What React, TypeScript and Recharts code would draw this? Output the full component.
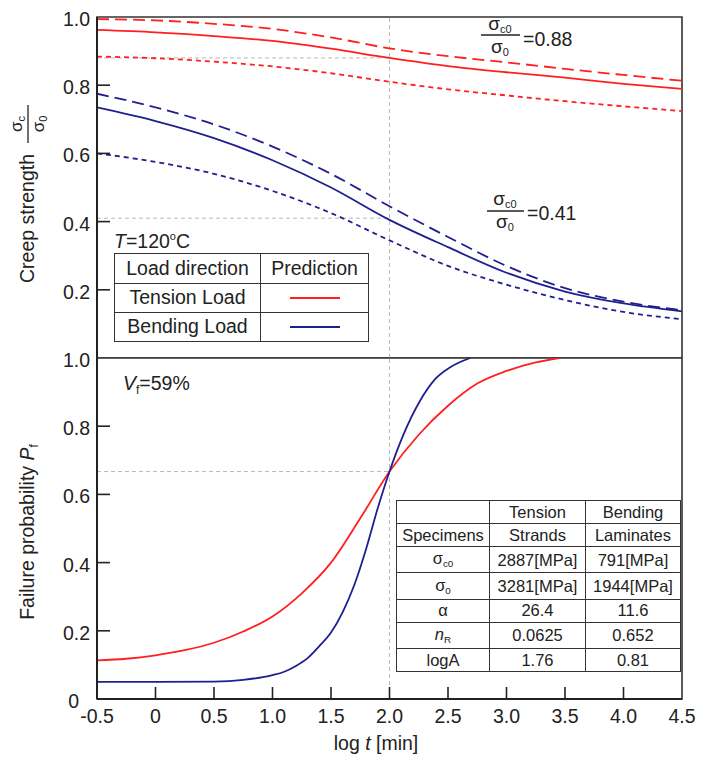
import React from 'react';
import { LineChart, Line, XAxis, YAxis, ReferenceLine, ReferenceArea } from 'recharts';

// ---------- data ----------
const logT = [-0.5, 0, 0.5, 1.0, 1.5, 2.0, 2.5, 3.0, 3.5, 4.0, 4.5];
const tensionPred = [0.962, 0.955, 0.944, 0.93, 0.907, 0.88, 0.856, 0.838, 0.822, 0.804, 0.789];
const tensionUpper = [0.994, 0.99, 0.98, 0.965, 0.94, 0.908, 0.885, 0.867, 0.848, 0.83, 0.813];
const tensionLower = [0.884, 0.879, 0.869, 0.855, 0.835, 0.81, 0.788, 0.77, 0.753, 0.738, 0.724];
const bendingPred = [0.735, 0.695, 0.645, 0.58, 0.5, 0.405, 0.325, 0.25, 0.195, 0.16, 0.137];
const bendingUpper = [0.775, 0.735, 0.685, 0.62, 0.54, 0.445, 0.355, 0.27, 0.205, 0.165, 0.14];
const bendingLower = [0.6, 0.575, 0.54, 0.49, 0.425, 0.345, 0.27, 0.215, 0.17, 0.135, 0.114];

const pfTensionT = [-0.5, -0.25, 0, 0.25, 0.5, 0.75, 1.0, 1.25, 1.5, 1.75, 2.0, 2.25, 2.5, 2.75, 3.0, 3.25, 3.45];
const pfTensionV = [0.113, 0.118, 0.128, 0.143, 0.165, 0.198, 0.242, 0.31, 0.4, 0.53, 0.667, 0.775, 0.86, 0.925, 0.962, 0.987, 1.0];
const pfBendingT = [-0.5, 0, 0.5, 0.75, 1.0, 1.1, 1.2, 1.3, 1.4, 1.5, 1.6, 1.7, 1.8, 1.9, 2.0, 2.12, 2.26, 2.39, 2.52, 2.69];
const pfBendingV = [0.05, 0.05, 0.051, 0.056, 0.07, 0.08, 0.097, 0.12, 0.155, 0.195, 0.255, 0.335, 0.44, 0.56, 0.667, 0.776, 0.874, 0.938, 0.973, 1.0];

const xTicks = [-0.5, 0, 0.5, 1.0, 1.5, 2.0, 2.5, 3.0, 3.5, 4.0, 4.5];
const topYTicks = [0.2, 0.4, 0.6, 0.8, 1.0];
const bottomYTicks = [0, 0.2, 0.4, 0.6, 0.8, 1.0];

const crossT = 2.0;
const tensionRatio = 0.88;
const bendingRatio = 0.41;
const crossPf = 0.667;

const legendRows = [
  { name: 'Tension Load', color: '#ff1f1f' },
  { name: 'Bending Load', color: '#1f1f8f' },
];

const paramHeader = ['', 'Tension', 'Bending'];
const paramSpecimens = ['Specimens', 'Strands', 'Laminates'];
const paramSigmaC0 = ['2887[MPa]', '791[MPa]'];
const paramSigma0 = ['3281[MPa]', '1944[MPa]'];
const paramAlpha = ['26.4', '11.6'];
const paramNR = ['0.0625', '0.652'];
const paramLogA = ['1.76', '0.81'];

// ---------- style ----------
const FONT = '"Liberation Sans", Arial, Helvetica, sans-serif';
const RED = '#ff1f1f';
const BLUE = '#1f1f8f';
const GRAY = '#b8b8b8';
const AXIS = '#222';
const FS = 19.5;

const topData = logT.map((t, i) => ({
  t,
  tp: tensionPred[i],
  tu: tensionUpper[i],
  tl: tensionLower[i],
  bp: bendingPred[i],
  bu: bendingUpper[i],
  bl: bendingLower[i],
}));
const pfTension = pfTensionT.map((t, i) => ({ t, v: pfTensionV[i] }));
const pfBending = pfBendingT.map((t, i) => ({ t, v: pfBendingV[i] }));

const fmt = (v: number) => (v === 0 ? '0' : v.toFixed(1));
const TICK_MARGIN = 6;

const YTick = (props: any) => {
  const { x, y, payload } = props;
  const axisX = x + TICK_MARGIN;
  const v = payload.value as number;
  return (
    <g>
      {v > 0 && v < 1 && <line x1={axisX} x2={axisX + 13} y1={y} y2={y} stroke={AXIS} strokeWidth={1.6} />}
      <text x={v === 0 ? axisX - 18 : axisX - 7} y={y + 2} dy="0.36em" textAnchor="end" fontSize={FS} fill="#222" fontFamily={FONT}>
        {fmt(v)}
      </text>
    </g>
  );
};

const XTickTop = (props: any) => {
  const { x, y, payload } = props;
  const axisY = y - TICK_MARGIN;
  const v = payload.value as number;
  if (v <= -0.5 || v >= 4.5) return <g />;
  return <line x1={x} x2={x} y1={axisY} y2={axisY - 8} stroke={AXIS} strokeWidth={1.6} />;
};

const XTickBottom = (props: any) => {
  const { x, y, payload } = props;
  const axisY = y - TICK_MARGIN;
  const v = payload.value as number;
  return (
    <g>
      {v > -0.5 && v < 4.5 && <line x1={x} x2={x} y1={axisY} y2={axisY - 12} stroke={AXIS} strokeWidth={1.6} />}
      <text x={x} y={axisY + 24} textAnchor="middle" fontSize={FS} fill="#222" fontFamily={FONT}>
        {fmt(v)}
      </text>
    </g>
  );
};

const cell: React.CSSProperties = {
  border: '1.5px solid #333',
  textAlign: 'center',
  padding: 0,
  whiteSpace: 'nowrap',
  lineHeight: 1,
};

const Sub = ({ children }: { children: React.ReactNode }) => (
  <sub style={{ fontSize: '0.6em', verticalAlign: '-0.3em' }}>{children}</sub>
);

export default function App() {
  return (
    <div style={{ position: 'absolute', left: 0, top: 0, width: 701, height: 764, background: '#fff', fontFamily: FONT, overflow: 'hidden' }}>
      {/* Top panel: creep strength */}
      <div style={{ position: 'absolute', left: 0, top: 0 }}>
        <LineChart width={701} height={358} data={topData} margin={{ top: 17, right: 19, bottom: 0, left: 0 }}>
          <XAxis
            type="number"
            dataKey="t"
            domain={[-0.5, 4.5]}
            ticks={xTicks}
            allowDataOverflow
            height={0}
            tickSize={0}
            tickMargin={TICK_MARGIN}
            tickLine={false}
            axisLine={{ stroke: AXIS, strokeWidth: 2 }}
            tick={<XTickTop />}
            interval={0}
          />
          <YAxis
            type="number"
            domain={[0, 1]}
            ticks={topYTicks}
            allowDataOverflow
            width={97}
            tickSize={0}
            tickMargin={TICK_MARGIN}
            tickLine={false}
            axisLine={{ stroke: AXIS, strokeWidth: 2 }}
            tick={<YTick />}
            interval={0}
          />
          <ReferenceArea x1={-0.5} x2={4.5} y1={0} y2={1} fill="none" stroke="#333" strokeWidth={1.6} />
          <ReferenceLine x={crossT} stroke={GRAY} strokeDasharray="4 3" strokeWidth={1} />
          <ReferenceLine segment={[{ x: -0.5, y: tensionRatio }, { x: crossT, y: tensionRatio }]} stroke={GRAY} strokeDasharray="4 3" strokeWidth={1} />
          <ReferenceLine segment={[{ x: -0.5, y: bendingRatio }, { x: crossT, y: bendingRatio }]} stroke={GRAY} strokeDasharray="4 3" strokeWidth={1} />
          <Line type="monotone" dataKey="tu" stroke={RED} strokeWidth={1.8} strokeDasharray="12 6" dot={false} isAnimationActive={false} />
          <Line type="monotone" dataKey="tp" stroke={RED} strokeWidth={1.8} dot={false} isAnimationActive={false} />
          <Line type="monotone" dataKey="tl" stroke={RED} strokeWidth={1.8} strokeDasharray="5 4" dot={false} isAnimationActive={false} />
          <Line type="monotone" dataKey="bu" stroke={BLUE} strokeWidth={1.8} strokeDasharray="12 6" dot={false} isAnimationActive={false} />
          <Line type="monotone" dataKey="bp" stroke={BLUE} strokeWidth={1.8} dot={false} isAnimationActive={false} />
          <Line type="monotone" dataKey="bl" stroke={BLUE} strokeWidth={1.8} strokeDasharray="5 4" dot={false} isAnimationActive={false} />
        </LineChart>
      </div>

      {/* Bottom panel: failure probability */}
      <div style={{ position: 'absolute', left: 0, top: 340 }}>
        <LineChart width={701} height={424} margin={{ top: 18, right: 19, bottom: 0, left: 0 }}>
          <XAxis
            type="number"
            dataKey="t"
            domain={[-0.5, 4.5]}
            ticks={xTicks}
            allowDataOverflow
            height={65}
            tickSize={0}
            tickMargin={TICK_MARGIN}
            tickLine={false}
            axisLine={{ stroke: AXIS, strokeWidth: 2 }}
            tick={<XTickBottom />}
            interval={0}
          />
          <YAxis
            type="number"
            domain={[0, 1]}
            ticks={bottomYTicks}
            allowDataOverflow
            width={97}
            tickSize={0}
            tickMargin={TICK_MARGIN}
            tickLine={false}
            axisLine={{ stroke: AXIS, strokeWidth: 2 }}
            tick={<YTick />}
            interval={0}
          />
          <ReferenceArea x1={-0.5} x2={4.5} y1={0} y2={1} fill="none" stroke="#333" strokeWidth={1.6} />
          <ReferenceLine x={crossT} stroke={GRAY} strokeDasharray="4 3" strokeWidth={1} />
          <ReferenceLine segment={[{ x: -0.5, y: crossPf }, { x: crossT, y: crossPf }]} stroke={GRAY} strokeDasharray="4 3" strokeWidth={1} />
          <Line type="monotone" data={pfTension} dataKey="v" stroke={RED} strokeWidth={1.8} dot={false} isAnimationActive={false} />
          <Line type="monotone" data={pfBending} dataKey="v" stroke={BLUE} strokeWidth={1.8} dot={false} isAnimationActive={false} />
        </LineChart>
      </div>

      {/* Text annotations */}
      <svg width={701} height={764} style={{ position: 'absolute', left: 0, top: 0, pointerEvents: 'none' }} fontFamily={FONT} fill="#222">
        {/* Top y title */}
        <text transform="translate(34,283) rotate(-90)" fontSize={FS}>Creep strength</text>
        <line x1={28} x2={28} y1={105} y2={143} stroke="#222" strokeWidth={1.3} />
        <text transform="translate(22,124) rotate(-90)" fontSize={17} textAnchor="middle">
          σ<tspan fontSize={11} dy={3}>c</tspan>
        </text>
        <text transform="translate(44,124) rotate(-90)" fontSize={17} textAnchor="middle">
          σ<tspan fontSize={11} dy={3}>0</tspan>
        </text>

        {/* Bottom y title */}
        <text transform="translate(34,532) rotate(-90)" fontSize={FS} textAnchor="middle">
          Failure probability <tspan fontStyle="italic">P</tspan>
          <tspan fontSize={12} dy={4}>f</tspan>
        </text>

        {/* X title */}
        <text x={376} y={750} fontSize={FS} textAnchor="middle">
          log <tspan fontStyle="italic">t</tspan> [min]
        </text>

        {/* ratio 0.88 */}
        <text x={500} y={30} fontSize={19} textAnchor="middle">
          σ<tspan fontSize={11} dy={3}>c0</tspan>
        </text>
        <line x1={481} x2={520} y1={35} y2={35} stroke="#222" strokeWidth={1.3} />
        <text x={500} y={53} fontSize={19} textAnchor="middle">
          σ<tspan fontSize={11} dy={3}>0</tspan>
        </text>
        <text x={523} y={46} fontSize={FS}>=0.88</text>

        {/* ratio 0.41 */}
        <text x={505} y={205} fontSize={19} textAnchor="middle">
          σ<tspan fontSize={11} dy={3}>c0</tspan>
        </text>
        <line x1={487} x2={524} y1={211} y2={211} stroke="#222" strokeWidth={1.3} />
        <text x={505} y={228} fontSize={19} textAnchor="middle">
          σ<tspan fontSize={11} dy={3}>0</tspan>
        </text>
        <text x={527} y={220} fontSize={FS}>=0.41</text>

        {/* Temperature */}
        <text x={114} y={248} fontSize={FS}>
          <tspan fontStyle="italic">T</tspan>=120<tspan fontSize={11} dy={-8}>o</tspan>
          <tspan dy={8}>C</tspan>
        </text>

        {/* Vf */}
        <text x={123} y={390} fontSize={FS}>
          <tspan fontStyle="italic">V</tspan>
          <tspan fontSize={12} dy={4}>f</tspan>
          <tspan dy={-4}>=59%</tspan>
        </text>
      </svg>

      {/* Legend table */}
      <table
        style={{
          position: 'absolute',
          left: 114,
          top: 253,
          width: 255,
          height: 87,
          borderCollapse: 'collapse',
          background: '#fff',
          fontSize: FS,
          color: '#222',
          fontFamily: FONT,
        }}
      >
        <tbody>
          <tr style={{ height: 30 }}>
            <td style={{ ...cell, width: 145 }}>Load direction</td>
            <td style={cell}>Prediction</td>
          </tr>
          {legendRows.map((r) => (
            <tr key={r.name} style={{ height: 29 }}>
              <td style={cell}>{r.name}</td>
              <td style={cell}>
                <svg width={50} height={6} style={{ display: 'block', margin: '0 auto' }}>
                  <line x1={0} x2={50} y1={3} y2={3} stroke={r.color} strokeWidth={2} />
                </svg>
              </td>
            </tr>
          ))}
        </tbody>
      </table>

      {/* Parameter table */}
      <table
        style={{
          position: 'absolute',
          left: 396,
          top: 500,
          width: 284,
          height: 172,
          borderCollapse: 'collapse',
          background: '#fff',
          fontSize: 16.5,
          color: '#222',
          fontFamily: FONT,
          tableLayout: 'fixed',
        }}
      >
        <colgroup>
          <col style={{ width: 93 }} />
          <col style={{ width: 96 }} />
          <col style={{ width: 95 }} />
        </colgroup>
        <tbody>
          <tr>
            {paramHeader.map((h, i) => (
              <td key={i} style={cell}>{h}</td>
            ))}
          </tr>
          <tr>
            {paramSpecimens.map((h, i) => (
              <td key={i} style={cell}>{h}</td>
            ))}
          </tr>
          <tr>
            <td style={cell}>σ<Sub>c0</Sub></td>
            {paramSigmaC0.map((v, i) => <td key={i} style={cell}>{v}</td>)}
          </tr>
          <tr>
            <td style={cell}>σ<Sub>0</Sub></td>
            {paramSigma0.map((v, i) => <td key={i} style={cell}>{v}</td>)}
          </tr>
          <tr>
            <td style={cell}>α</td>
            {paramAlpha.map((v, i) => <td key={i} style={cell}>{v}</td>)}
          </tr>
          <tr>
            <td style={cell}><i>n</i><Sub>R</Sub></td>
            {paramNR.map((v, i) => <td key={i} style={cell}>{v}</td>)}
          </tr>
          <tr>
            <td style={cell}>logA</td>
            {paramLogA.map((v, i) => <td key={i} style={cell}>{v}</td>)}
          </tr>
        </tbody>
      </table>
    </div>
  );
}
